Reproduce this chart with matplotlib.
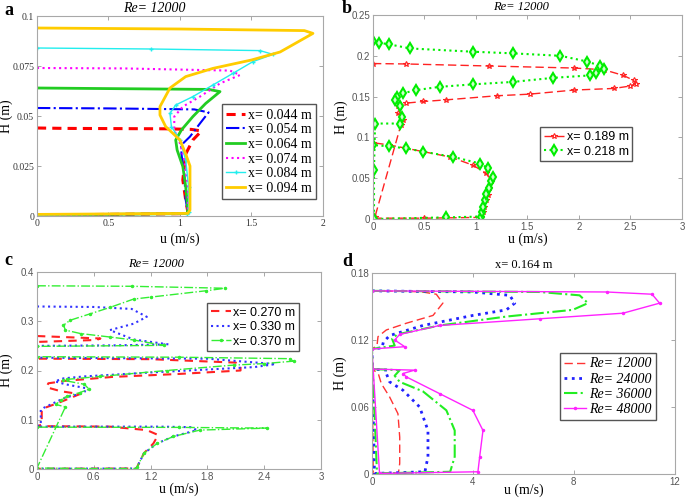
import matplotlib
matplotlib.use("Agg")
import matplotlib.pyplot as plt
from matplotlib.ticker import FuncFormatter

# ---- panel a: Re=12000, x = 0.044 ... 0.094 m ----
a_u_044 = [0, 0.2, 0.9, 1.08, 1.15, 1.09, 1.04, 1.03, 1.02, 1.04, 1.055, 1.05, 0.5, 0]
a_h_044 = [0.044, 0.0438, 0.0436, 0.0433, 0.0425, 0.038, 0.031, 0.0247, 0.018, 0.008, 0.002, 0.0012, 0.0008, 0.0005]
a_u_054 = [0, 0.5, 1.1, 1.20, 1.14, 1.07, 1.01, 1.01, 1.03, 1.04, 1.055, 1.05, 0]
a_h_054 = [0.054, 0.0538, 0.0533, 0.0518, 0.0463, 0.0397, 0.0355, 0.031, 0.021, 0.008, 0.002, 0.0012, 0.0005]
a_u_064 = [0, 0.5, 1.2, 1.28, 1.18, 1.09, 1.01, 0.97, 0.98, 1.02, 1.04, 1.055, 1.05, 0]
a_h_064 = [0.064, 0.0637, 0.0633, 0.0622, 0.0563, 0.0497, 0.043, 0.038, 0.033, 0.0247, 0.0147, 0.003, 0.0012, 0.0005]
a_u_074 = [0, 0.6, 1.35, 1.42, 1.28, 1.14, 1.02, 0.96, 0.96, 1.0, 1.03, 1.055, 1.055, 1.05, 0]
a_h_074 = [0.074, 0.0738, 0.0727, 0.0705, 0.0663, 0.0597, 0.0547, 0.0497, 0.043, 0.0363, 0.028, 0.0147, 0.002, 0.0012, 0.0005]
a_u_084 = [0, 0.8, 1.56, 1.65, 1.51, 1.37, 1.23, 1.09, 0.97, 0.93, 0.94, 1.0, 1.04, 1.06, 1.06, 1.05, 0]
a_h_084 = [0.084, 0.0835, 0.0827, 0.0808, 0.0772, 0.0713, 0.0655, 0.0597, 0.0555, 0.0513, 0.0447, 0.038, 0.028, 0.0147, 0.002, 0.0012, 0.0005]
a_u_094 = [0, 1.0, 1.87, 1.93, 1.70, 1.5, 1.23, 1.04, 0.93, 0.86, 0.86, 0.90, 1.0, 1.04, 1.07, 1.07, 1.07, 1.055, 0]
a_h_094 = [0.094, 0.0935, 0.0927, 0.0913, 0.082, 0.078, 0.0738, 0.0697, 0.064, 0.0547, 0.0505, 0.0447, 0.038, 0.031, 0.025, 0.015, 0.003, 0.0013, 0.0008]
a_labels = ["x= 0.044 m", "x= 0.054 m", "x= 0.064 m", "x= 0.074 m", "x= 0.084 m", "x= 0.094 m"]

# ---- panel b: Re=12000, x = 0.189, 0.218 m ----
b_u_189 = [0, 0.32, 1.13, 1.95, 2.24, 2.43, 2.53, 2.55, 2.5, 2.34, 1.95, 1.52, 1.2, 0.71, 0.49, 0.32,
           0.24, 0.24, 0.29, 0.27, 0.02, 0.0, 0.5, 1.05, 1.07, 1.08, 1.10, 1.12, 1.13, 1.15, 1.10,
           0.97, 0.75, 0.49, 0.16, 0]
b_h_189 = [0.1905, 0.19, 0.1875, 0.185, 0.183, 0.176, 0.17, 0.166, 0.163, 0.16, 0.158, 0.153, 0.151, 0.146, 0.144, 0.142,
           0.138, 0.13, 0.121, 0.115, 0.003, 0.001, 0.001, 0.002, 0.008, 0.015, 0.023, 0.03, 0.038, 0.046, 0.056,
           0.066, 0.076, 0.0825, 0.0907, 0.0935]
b_u_218 = [0, 0.06, 0.16, 0.36, 0.97, 1.36, 1.82, 2.08, 2.20, 2.24, 2.17, 2.11, 1.75, 1.36, 0.97, 0.65,
           0.42, 0.29, 0.23, 0.21, 0.26, 0.28, 0.26, 0.02, 0.01, 0.01, 0.71, 1.05, 1.06, 1.07, 1.09,
           1.10, 1.13, 1.15, 1.17, 1.12, 1.04, 0.78, 0.49, 0.32, 0.16, 0]
b_h_218 = [0.2185, 0.216, 0.214, 0.209, 0.205, 0.203, 0.2, 0.193, 0.188, 0.184, 0.179, 0.176, 0.173, 0.168, 0.165, 0.162,
           0.158, 0.154, 0.15, 0.146, 0.138, 0.125, 0.117, 0.117, 0.06, 0.0, 0.002, 0.003, 0.008, 0.015, 0.023,
           0.031, 0.038, 0.046, 0.052, 0.062, 0.068, 0.076, 0.0825, 0.0866, 0.089, 0.0907]
b_labels = ["x= 0.189 m", "x= 0.218 m"]

# ---- panel c: Re=12000, x = 0.270, 0.330, 0.370 m ----
c_u_270 = [0, 0.67, 0.63, 0, 0, 1.2, 2.1, 2.15, 2.15, 1.5, 0.8, 0.3, 0.12, 0.10, 0.25, 0.45, 0.3, 0.18,
           0.05, 0.05, 0, 0.77, 1.16, 1.28, 1.23, 1.13, 1.06, 1.05, 0]
c_h_270 = [0.27, 0.265, 0.262, 0.258, 0.224, 0.223, 0.216, 0.211, 0.2, 0.193, 0.187, 0.179, 0.174, 0.166, 0.158, 0.152, 0.14, 0.131,
           0.122, 0.09, 0.087, 0.086, 0.079, 0.069, 0.052, 0.032, 0.005, 0.001, 0.0005]
c_u_330 = [0, 0.6, 1.0, 1.16, 1.02, 0.77, 1.02, 1.39, 0.8, 0, 0, 1.8, 2.52, 2.3, 1.2, 0.5, 0.28, 0.19, 0.3,
           0.52, 0.5, 0.3, 0.21, 0.07, 0.04, 0.04, 0, 1.3, 1.62, 1.69, 1.44, 1.27, 1.13, 1.06, 1.05, 0]
c_h_330 = [0.33, 0.329, 0.325, 0.309, 0.295, 0.282, 0.263, 0.253, 0.251, 0.25, 0.226, 0.224, 0.213, 0.207, 0.196, 0.188, 0.184, 0.178, 0.172,
           0.164, 0.155, 0.145, 0.137, 0.124, 0.12, 0.09, 0.086, 0.086, 0.085, 0.079, 0.066, 0.052, 0.032, 0.005, 0.001, 0.0005]
c_u_370 = [0, 1.0, 1.99, 1.79, 1.2, 1.02, 0.77, 0.56, 0.35, 0.28, 0.30, 0.46, 0.77, 1.02, 1.34, 0, 0, 1.5, 2.67,
           2.71, 2.4, 2.08, 1.37, 0.67, 0.32, 0.28, 0.5, 0.55, 0.45, 0.32, 0.25, 0.2, 0.3, 0.0, 0.5, 1.05, 1.06,
           1.13, 1.27, 1.44, 1.72, 2.43, 1.5, 0]
c_h_370 = [0.372, 0.371, 0.367, 0.362, 0.349, 0.345, 0.328, 0.315, 0.302, 0.292, 0.282, 0.275, 0.268, 0.262, 0.251, 0.249, 0.228, 0.227, 0.224,
           0.219, 0.214, 0.211, 0.2, 0.188, 0.182, 0.18, 0.172, 0.162, 0.155, 0.148, 0.14, 0.131, 0.126, 0.002, 0.001, 0.001, 0.005,
           0.032, 0.052, 0.066, 0.079, 0.083, 0.0845, 0.085]
c_labels = ["x= 0.270 m", "x= 0.330 m", "x= 0.370 m"]

# ---- panel d: x = 0.164 m, Re = 12000 ... 48000 ----
d_u_12 = [0, 1.5, 2.0, 2.55, 2.81, 2.42, 1.36, 0.57, 0.24, 0.2, 0, 0.05, 0, 1.05, 1.1, 1.1, 1.03, 0.70, 0.37, 0.25, 0]
d_h_12 = [0.164, 0.1635, 0.163, 0.161, 0.153, 0.142, 0.135, 0.129, 0.123, 0.115, 0.112, 0.002, 0.0005, 0.001, 0.0095, 0.033, 0.054, 0.069, 0.081, 0.09, 0.094]
d_u_24 = [0, 4.0, 5.46, 5.66, 5.33, 4.0, 2.02, 0.7, 0.45, 0.4, 0, 0.1, 2.1, 2.22, 2.22, 1.89, 1.23, 0.70, 0.57, 0.6, 0]
d_h_24 = [0.164, 0.163, 0.16, 0.153, 0.147, 0.142, 0.133, 0.124, 0.118, 0.113, 0.112, 0.0005, 0.002, 0.0155, 0.039, 0.060, 0.075, 0.0825, 0.09, 0.093, 0.094]
d_u_36 = [0, 6.65, 8.23, 8.56, 7.96, 5.33, 2.68, 1.0, 0.8, 0.9, 0, 0.2, 3.1, 3.28, 3.28, 2.95, 2.02, 1.1, 0.9, 1.1, 0]
d_h_36 = [0.164, 0.163, 0.16, 0.153, 0.147, 0.141, 0.133, 0.125, 0.121, 0.115, 0.112, 0.0005, 0.002, 0.0155, 0.039, 0.057, 0.074, 0.0825, 0.088, 0.093, 0.094]
d_u_48 = [0, 9.3, 11.1, 11.4, 9.95, 6.65, 2.68, 1.1, 0.9, 1.3, 0, 0.3, 4.2, 4.27, 4.4, 4.0, 2.68, 1.36, 1.23, 1.69, 0]
d_h_48 = [0.164, 0.163, 0.161, 0.153, 0.144, 0.139, 0.133, 0.125, 0.12, 0.114, 0.112, 0.0005, 0.002, 0.0155, 0.039, 0.057, 0.072, 0.087, 0.09, 0.093, 0.094]
d_labels = ["Re= 12000", "Re= 24000", "Re= 36000", "Re= 48000"]

serif = "Liberation Serif"
sans = "Liberation Sans"

fig = plt.figure(figsize=(6.85, 5), dpi=100)

def style_axes(ax, xlim, ylim, xticks, yticks, tick_font, tick_color, ylab_x, xlab_y):
    ax.set_xlim(xlim)
    ax.set_ylim(ylim)
    ax.set_xticks(xticks)
    ax.set_yticks(yticks)
    ax.xaxis.set_major_formatter(FuncFormatter(lambda v, p: "%g" % v))
    ax.yaxis.set_major_formatter(FuncFormatter(lambda v, p: "%g" % v))
    ax.tick_params(direction="in", length=3, width=0.6, top=True, right=True,
                   labelsize=7, colors="#999999", labelcolor=tick_color, pad=2)
    for lab in ax.get_xticklabels() + ax.get_yticklabels():
        lab.set_family(tick_font)
    for s in ax.spines.values():
        s.set_color("#a8a8a8")
        s.set_linewidth(0.8)
    ax.set_xlabel("u (m/s)", family=serif, fontsize=10)
    ax.set_ylabel("H (m)", family=serif, fontsize=10)
    ax.yaxis.set_label_coords(ylab_x, 0.5)
    ax.xaxis.set_label_coords(0.5, xlab_y)

leg_kw = dict(handletextpad=0.2, borderpad=0.3, fancybox=False, edgecolor="#555555", framealpha=1)

# panel a
ax = fig.add_axes([0.054, 0.568, 0.4175, 0.4])
ax.plot(a_u_044, a_h_044, "--", color="#ff0000", lw=2.2, dashes=(3, 2), label=a_labels[0])
ax.plot(a_u_054, a_h_054, "-.", color="#0000ff", lw=1.5, label=a_labels[1])
ax.plot(a_u_064, a_h_064, "-", color="#22cc22", lw=2.0, label=a_labels[2])
ax.plot(a_u_074, a_h_074, ":", color="#ff00ff", lw=1.5, label=a_labels[3])
ax.plot(a_u_084, a_h_084, "-", color="#22eeee", lw=1.0, marker="+", ms=3, label=a_labels[4])
ax.plot(a_u_094, a_h_094, "-", color="#ffcc00", lw=2.0, label=a_labels[5])
style_axes(ax, (0, 2), (0, 0.1), [0, 0.5, 1, 1.5, 2], [0, 0.025, 0.05, 0.075, 0.1],
           serif, "#333333", -0.085, -0.085)
ax.legend(loc="lower right", bbox_to_anchor=(1.0, 0.05), prop={"family": serif, "size": 10},
          handlelength=1.4, labelspacing=0.12, **leg_kw)
ax.text(0.41, 1.04, "Re= 12000", transform=ax.transAxes, ha="center", va="center",
        family=serif, style="italic", fontsize=10)
fig.text(0.007, 0.962, "a", family=serif, weight="bold", fontsize=13, va="bottom")

# panel b
ax = fig.add_axes([0.5445, 0.562, 0.451, 0.408])
ax.plot(b_u_189, b_h_189, "--", color="#ff2222", lw=1.0, dashes=(6, 3), marker="*", ms=4,
        mfc="none", mew=0.8, label=b_labels[0])
ax.plot(b_u_218, b_h_218, ":", color="#00ee00", lw=1.5, marker="d", ms=5,
        mfc="#ccffcc", mew=1.5, label=b_labels[1])
style_axes(ax, (0, 3), (0, 0.25), [0, 0.5, 1, 1.5, 2, 2.5, 3], [0, 0.05, 0.1, 0.15, 0.2, 0.25],
           sans, "#555555", -0.08, -0.068)
ax.legend(loc="upper right", bbox_to_anchor=(0.86, 0.48), prop={"family": sans, "size": 9},
          handlelength=1.6, labelspacing=0.2, **leg_kw)
ax.text(0.48, 1.04, "Re= 12000", transform=ax.transAxes, ha="center", va="center",
        family=serif, style="italic", fontsize=9)
fig.text(0.499, 0.966, "b", family=serif, weight="bold", fontsize=13, va="bottom")

# panel c
ax = fig.add_axes([0.054, 0.062, 0.4146, 0.394])
ax.plot(c_u_270, c_h_270, "--", color="#ff2222", lw=1.5, dashes=(4, 3), label=c_labels[0])
ax.plot(c_u_330, c_h_330, ":", color="#3333ff", lw=1.5, label=c_labels[1])
ax.plot(c_u_370, c_h_370, "-.", color="#33ee33", lw=1.0, marker=".", ms=3, label=c_labels[2])
style_axes(ax, (0, 3), (0, 0.4), [0, 0.6, 1.2, 1.8, 2.4, 3], [0, 0.1, 0.2, 0.3, 0.4],
           sans, "#555555", -0.085, -0.07)
ax.legend(loc="upper right", bbox_to_anchor=(0.945, 0.875), prop={"family": sans, "size": 9},
          handlelength=1.6, labelspacing=0.2, **leg_kw)
ax.text(0.42, 1.04, "Re= 12000", transform=ax.transAxes, ha="center", va="center",
        family=serif, style="italic", fontsize=9)
fig.text(0.006, 0.462, "c", family=serif, weight="bold", fontsize=13, va="bottom")

# panel d
ax = fig.add_axes([0.543, 0.052, 0.442, 0.402])
ax.plot(d_u_12, d_h_12, "--", color="#ff3333", lw=1.0, dashes=(6, 3), label=d_labels[0])
ax.plot(d_u_24, d_h_24, ":", color="#2222ff", lw=2.0, label=d_labels[1])
ax.plot(d_u_36, d_h_36, "-.", color="#22ee22", lw=1.5, label=d_labels[2])
ax.plot(d_u_48, d_h_48, "-", color="#ff22ff", lw=1.0, marker=".", ms=3, label=d_labels[3])
style_axes(ax, (0, 12), (0, 0.18), [0, 4, 8, 12], [0, 0.06, 0.12, 0.18],
           sans, "#555555", -0.083, -0.045)
ax.legend(loc="upper right", bbox_to_anchor=(0.96, 0.635), prop={"family": serif, "size": 10, "style": "italic"},
          handlelength=1.6, labelspacing=0.15, **leg_kw)
ax.text(0.5, 1.04, "x= 0.164 m", transform=ax.transAxes, ha="center", va="center",
        family=serif, fontsize=9)
fig.text(0.499, 0.46, "d", family=serif, weight="bold", fontsize=13, va="bottom")

fig.savefig("out.png", dpi=100)
